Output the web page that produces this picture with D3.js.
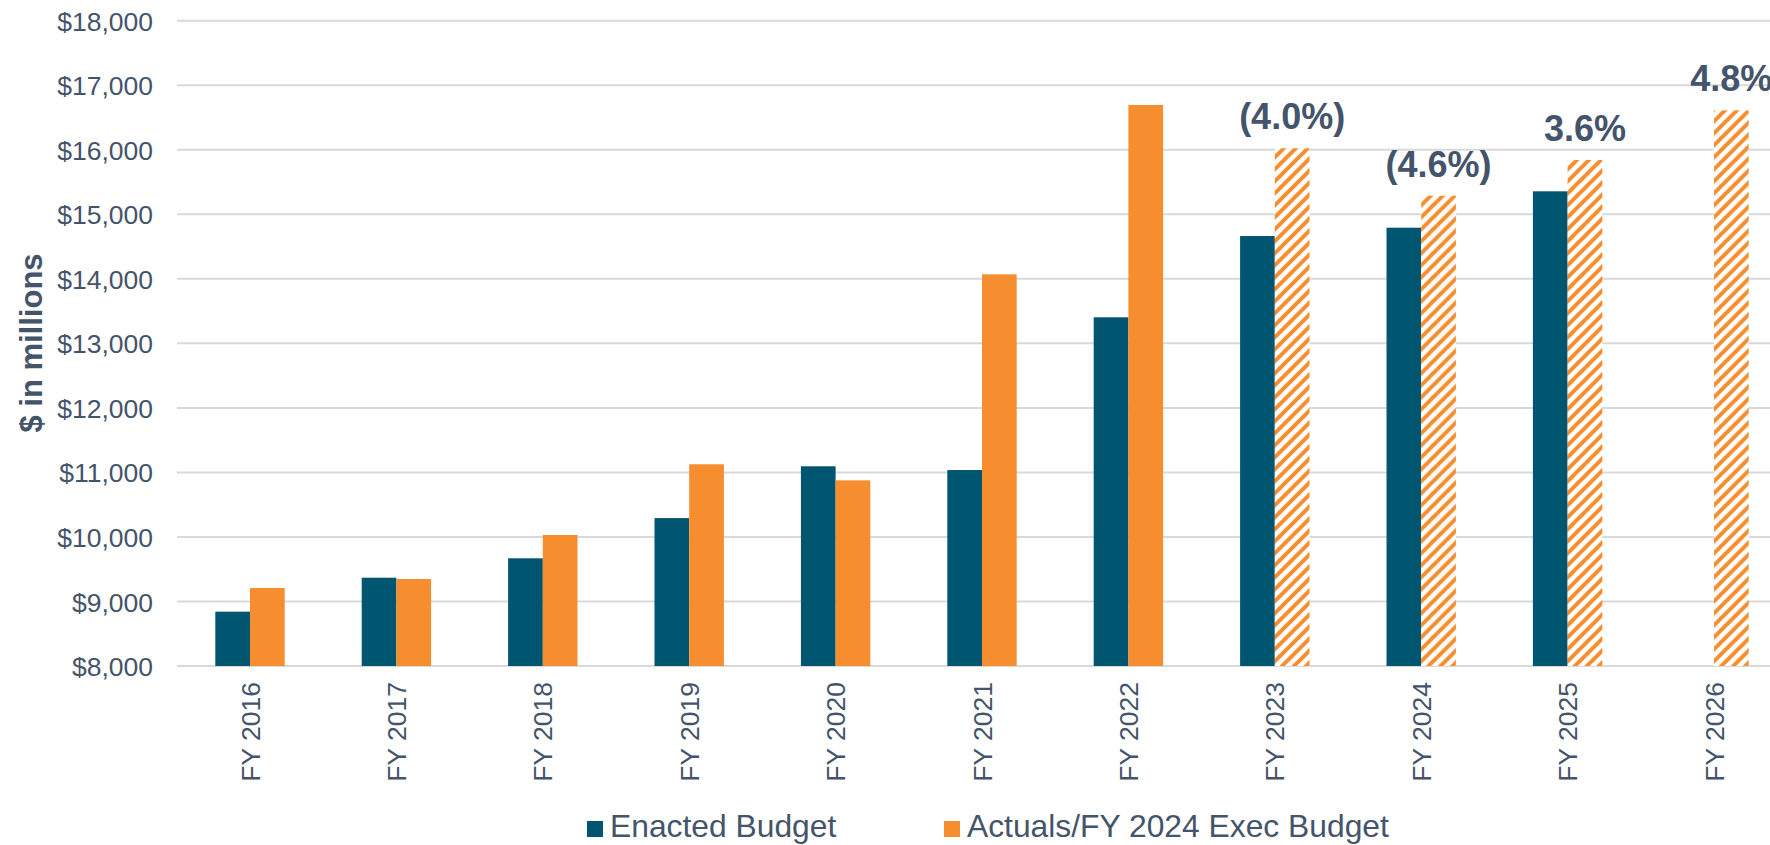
<!DOCTYPE html>
<html>
<head>
<meta charset="utf-8">
<script src="https://cdn.jsdelivr.net/npm/d3@7"></script>
<style>
  html, body { margin: 0; padding: 0; background: #ffffff; }
  svg { display: block; }
  text { font-family: "Liberation Sans", Arial, sans-serif; fill: #44546A; }
</style>
</head>
<body>
<svg id="chart" width="1770" height="845"></svg>
<script>
// ---- data ----
const categories = ["FY 2016","FY 2017","FY 2018","FY 2019","FY 2020","FY 2021","FY 2022","FY 2023","FY 2024","FY 2025","FY 2026"];
const enactedBudget = [8842, 9368, 9669, 10292, 11095, 11037, 13404, 14663, 14792, 15356, null];
const actualsExec   = [9209, 9348, 10030, 11126, 10877, 14070, 16694, 16023, 15288, 15841, 16611];
// which Actuals/Exec values are projections (drawn hatched)
const projected     = [false,false,false,false,false,false,false,true,true,true,true];
const growthLabels  = [null,null,null,null,null,null,null,"(4.0%)","(4.6%)","3.6%","4.8%"];
const seriesNames   = ["Enacted Budget","Actuals/FY 2024 Exec Budget"];
const yTicks        = [8000,9000,10000,11000,12000,13000,14000,15000,16000,17000,18000];
const yTitle        = "$ in millions";

// ---- style ----
const colDark = "#005670";
const colOrange = "#F68D2E";
const textCol = "#44546A";

const svg = d3.select("#chart");
const W = 1770, H = 845;

const x = d3.scaleBand()
  .domain(categories)
  .range([176.8, 1787.2])
  .paddingInner(0.526)
  .paddingOuter(0.263);

const xs = d3.scaleBand()
  .domain(seriesNames)
  .range([0, x.bandwidth()])
  .padding(0);

const y = d3.scaleLinear()
  .domain([8000, 18000])
  .range([666, 20.7]);

// hatch pattern
const defs = svg.append("defs");
const pat = defs.append("pattern")
  .attr("id", "hatch")
  .attr("patternUnits", "userSpaceOnUse")
  .attr("width", 12).attr("height", 12);
pat.append("rect").attr("width", 12).attr("height", 12).attr("fill", "#ffffff");
pat.append("path")
  .attr("d", "M-3,3 L3,-3 M0,12 L12,0 M9,15 L15,9")
  .attr("stroke", colOrange)
  .attr("stroke-width", 4);

// gridlines + y axis
const yAxis = d3.axisLeft(y)
  .tickValues(yTicks)
  .tickSize(0)
  .tickPadding(0)
  .tickFormat(d => "$" + d3.format(",")(d));

const gGrid = svg.append("g");
gGrid.selectAll("line")
  .data(yTicks)
  .join("line")
  .attr("x1", 177).attr("x2", W)
  .attr("y1", d => y(d)).attr("y2", d => y(d))
  .attr("stroke", "#D9D9D9")
  .attr("stroke-width", 2);

const gy = svg.append("g")
  .attr("transform", "translate(153,0)")
  .call(yAxis);
gy.select(".domain").remove();
gy.selectAll("text")
  .attr("x", 0)
  .attr("dy", "0.36em")
  .style("font-size", "26.5px")
  .style("fill", textCol)
  .style("font-family", '"Liberation Sans", Arial, sans-serif');

// x axis labels (rotated)
const xAxis = d3.axisBottom(x).tickSize(0).tickPadding(0);
const gx = svg.append("g")
  .attr("transform", "translate(0,666)")
  .call(xAxis);
gx.select(".domain").remove();
gx.selectAll("text")
  .attr("transform", "rotate(-90)")
  .attr("x", -16)
  .attr("y", 0)
  .attr("dy", "0.36em")
  .attr("text-anchor", "end")
  .style("font-size", "26.5px")
  .style("fill", textCol)
  .style("font-family", '"Liberation Sans", Arial, sans-serif');

// bars
const rows = categories.map((c, i) => ({
  cat: c,
  vals: [
    { s: seriesNames[0], v: enactedBudget[i], hatch: false },
    { s: seriesNames[1], v: actualsExec[i], hatch: projected[i] }
  ]
}));

const gBars = svg.append("g");
const groups = gBars.selectAll("g")
  .data(rows)
  .join("g")
  .attr("transform", d => `translate(${x(d.cat)},0)`);

groups.selectAll("rect")
  .data(d => d.vals.filter(v => v.v != null))
  .join("rect")
  .attr("x", d => xs(d.s))
  .attr("width", xs.bandwidth())
  .attr("y", d => y(d.v))
  .attr("height", d => y(8000) - y(d.v))
  .attr("fill", d => d.s === seriesNames[0] ? colDark : (d.hatch ? "url(#hatch)" : colOrange));

// growth labels (centred over the Actuals/Exec bar)
svg.append("g").selectAll("text")
  .data(categories.map((c, i) => ({ c, lab: growthLabels[i], v: actualsExec[i] })).filter(d => d.lab))
  .join("text")
  .attr("x", d => x(d.c) + xs(seriesNames[1]) + xs.bandwidth() / 2)
  .attr("y", d => y(d.v) - 19)
  .attr("text-anchor", "middle")
  .style("font-size", "36px")
  .style("font-weight", "bold")
  .style("fill", textCol)
  .text(d => d.lab);

// y title
svg.append("text")
  .attr("transform", "translate(31,343) rotate(-90)")
  .attr("text-anchor", "middle")
  .attr("dy", "0.36em")
  .style("font-size", "31px")
  .style("font-weight", "bold")
  .style("fill", textCol)
  .text(yTitle);

// legend
const legendItems = [
  { name: seriesNames[0], color: colDark, x: 587 },
  { name: seriesNames[1], color: colOrange, x: 944 }
];
const gl = svg.append("g");
const li = gl.selectAll("g").data(legendItems).join("g")
  .attr("transform", d => `translate(${d.x},0)`);
li.append("rect")
  .attr("x", 0).attr("y", 821)
  .attr("width", 16).attr("height", 16)
  .attr("fill", d => d.color);
li.append("text")
  .attr("x", 23).attr("y", 837)
  .style("font-size", "31.8px")
  .style("fill", textCol)
  .text(d => d.name);
</script>
</body>
</html>
